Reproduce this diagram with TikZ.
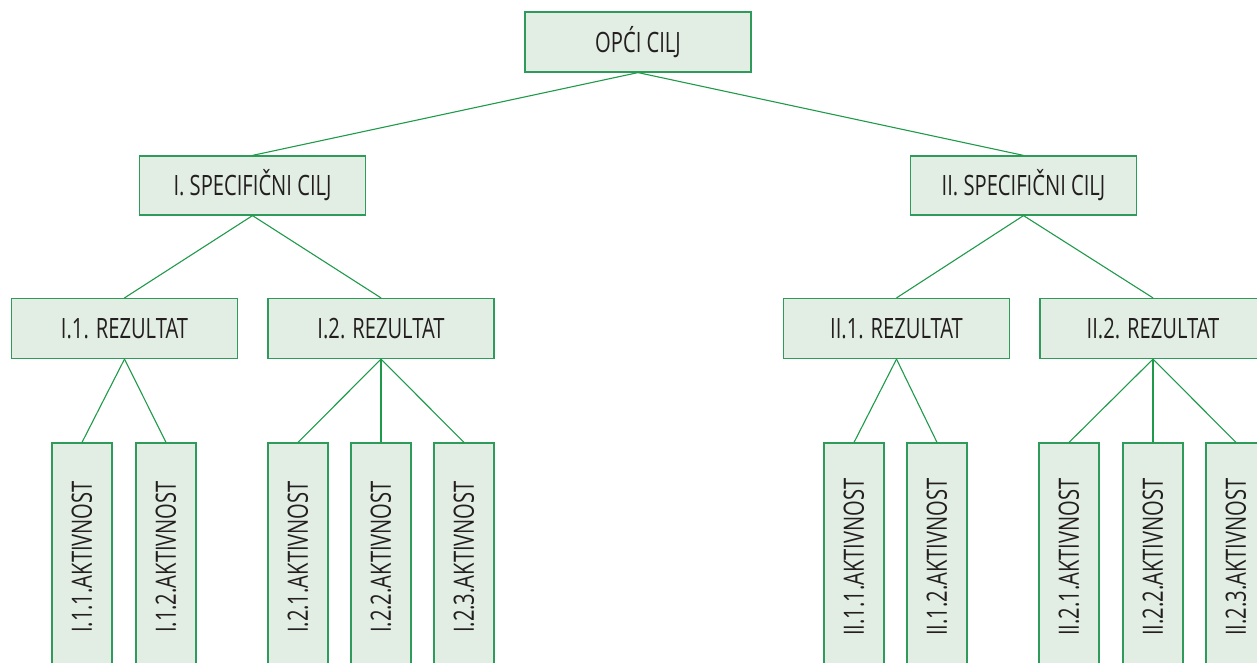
\documentclass[tikz,border=0pt]{standalone}
\usepackage{fontspec}
\setmainfont[FakeStretch=0.72]{Open Sans}
\definecolor{boxfill}{HTML}{E2EDE3}
\definecolor{boxline}{HTML}{2E9B5A}
\definecolor{linkline}{HTML}{1F9A4B}
\definecolor{txt}{HTML}{231F20}
\begin{document}
\begin{tikzpicture}[x=1pt,y=1pt,
  basebox/.style={draw=boxline, fill=boxfill, line width=1.2pt, inner sep=0pt, text=txt, font=\fontsize{28}{32}\selectfont},
  hbox/.style={basebox, minimum width=226pt, minimum height=60pt},
  vbox/.style={basebox, rotate=90, minimum width=228pt, minimum height=60pt},
  link/.style={draw=linkline, line width=1.1pt}]
\clip (0,0) rectangle (1257,-663);
\node[hbox] (top) at (638,-42) {OPĆI CILJ};
\node[hbox, minimum height=59pt] (s1) at (252.5,-185.5) {I. SPECIFIČNI CILJ};
\node[hbox, minimum height=59pt] (s2) at (1023.5,-185.5) {II. SPECIFIČNI CILJ};
\node[hbox] (r1) at (124.5,-328.5) {I.1. REZULTAT};
\node[hbox] (r2) at (381,-328.5) {I.2. REZULTAT};
\node[hbox] (r3) at (896.5,-328.5) {II.1. REZULTAT};
\node[hbox] (r4) at (1153,-328.5) {II.2. REZULTAT};
\node[vbox] (a11) at (82,-557) {I.1.1.AKTIVNOST};
\node[vbox] (a12) at (166,-557) {I.1.2.AKTIVNOST};
\node[vbox] (a21) at (298,-557) {I.2.1.AKTIVNOST};
\node[vbox] (a22) at (381,-557) {I.2.2.AKTIVNOST};
\node[vbox] (a23) at (464,-557) {I.2.3.AKTIVNOST};
\node[vbox] (b11) at (854,-557) {II.1.1.AKTIVNOST};
\node[vbox] (b12) at (937,-557) {II.1.2.AKTIVNOST};
\node[vbox] (b21) at (1069,-557) {II.2.1.AKTIVNOST};
\node[vbox] (b22) at (1153,-557) {II.2.2.AKTIVNOST};
\node[vbox] (b23) at (1236,-557) {II.2.3.AKTIVNOST};
\draw[link] (top.south) -- (s1.north);
\draw[link] (top.south) -- (s2.north);
\draw[link] (s1.south) -- (r1.north);
\draw[link] (s1.south) -- (r2.north);
\draw[link] (s2.south) -- (r3.north);
\draw[link] (s2.south) -- (r4.north);
\draw[link] (r1.south) -- (a11.east);
\draw[link] (r1.south) -- (a12.east);
\draw[link] (r2.south) -- (a21.east);
\draw[link] (r2.south) -- (a22.east);
\draw[link] (r2.south) -- (a23.east);
\draw[link] (r3.south) -- (b11.east);
\draw[link] (r3.south) -- (b12.east);
\draw[link] (r4.south) -- (b21.east);
\draw[link] (r4.south) -- (b22.east);
\draw[link] (r4.south) -- (b23.east);
\end{tikzpicture}
\end{document}
